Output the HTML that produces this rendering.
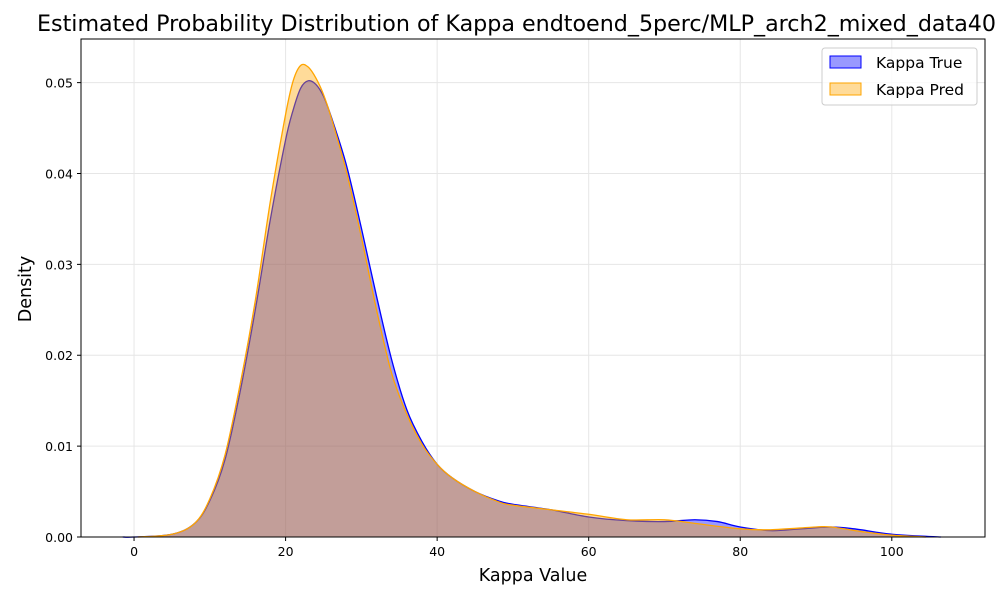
<!DOCTYPE html>
<html><head><meta charset="utf-8"><style>body{margin:0;background:#fff}svg{display:block;font-family:"DejaVu Sans","Liberation Sans",sans-serif}</style></head>
<body>
<svg id="c" width="1000" height="600">
<text x="37" y="31" font-size="22.2" fill="#000">Estimated Probability Distribution of Kappa endtoend_5perc/MLP_arch2_mixed_data40</text>
<g id="grid"></g><g id="marks"></g><g id="axes"></g>
<text x="533" y="581" font-size="17.5" text-anchor="middle">Kappa Value</text>
<text x="31" y="289" font-size="17.5" text-anchor="middle" transform="rotate(-90 31 289)">Density</text>
<g>
<rect x="822" y="48" width="155" height="57" rx="3" fill="#fff" fill-opacity="0.8" stroke="#ccc"/>
<g><rect x="830" y="56" width="31" height="12" fill="rgba(0,0,255,0.4)" stroke="#0000ff"/><text x="876" y="68" font-size="15.5">Kappa True</text></g>
<g><rect x="830" y="83" width="31" height="12" fill="rgba(255,165,0,0.4)" stroke="#ffa500"/><text x="876" y="95" font-size="15.5">Kappa Pred</text></g>
</g>
</svg>
<script>
const trueX=[-1.5,0,5,8,10,12,14,16,18,20,21,22,23,24,25,26,28,30,32,34,36,38,40,42,45,48,50,55,60,65,70,74,77,80,84,88,92,95,100,104,106.5];
const trueY=[0,0,0.0003,0.0015,0.004,0.0085,0.016,0.025,0.035,0.0437,0.047,0.0494,0.0502,0.0498,0.0485,0.0463,0.041,0.034,0.0265,0.0195,0.014,0.0105,0.008,0.0065,0.005,0.004,0.0036,0.003,0.0022,0.0018,0.0017,0.0019,0.0017,0.0011,0.0007,0.0009,0.0011,0.0009,0.0003,0.0001,0];
const predX=[0.5,5,8,10,12,14,16,18,20,21,22,23,24,25,26,28,30,32,34,36,38,40,42,45,48,50,55,60,65,70,74,80,84,90,92,96,100,104.5];
const predY=[0,0.0003,0.0015,0.0042,0.009,0.0168,0.026,0.037,0.0465,0.0502,0.0519,0.0517,0.0505,0.0487,0.0462,0.0403,0.033,0.025,0.018,0.0135,0.0102,0.008,0.0065,0.005,0.0039,0.0035,0.003,0.0025,0.0019,0.0019,0.0015,0.0009,0.0008,0.0011,0.0011,0.0006,0.0002,0];
const xTicks=[0,20,40,60,80,100];
const yTicks=[0,0.01,0.02,0.03,0.04,0.05];
const L=81,R=985,T=39,B=537,xMin=-7,xMax=112.3,yMax=0.0548;
const sx=v=>L+(v-xMin)/(xMax-xMin)*(R-L), sy=v=>B-v/yMax*(B-T);
const NS='http://www.w3.org/2000/svg';
function mk(t,a,p){const e=document.createElementNS(NS,t);for(const k in a)e.setAttribute(k,a[k]);p.appendChild(e);return e;}
const grid=document.getElementById('grid'),axes=document.getElementById('axes'),marks=document.getElementById('marks');
xTicks.forEach(v=>{const x=sx(v);
 const g=mk('line',{x1:x,x2:x,y1:T,y2:B,stroke:'#e6e6e6','stroke-width':1},grid);
 
 
 mk('line',{x1:x,x2:x,y1:B,y2:B+4,stroke:'#000'},axes);
 const t=mk('text',{x:x,y:B+19,'font-size':12.5,'text-anchor':'middle'},axes);t.textContent=v;
 
 });
yTicks.forEach(v=>{const y=sy(v);
 const g=mk('line',{x1:L,x2:R,y1:y,y2:y,stroke:'#e6e6e6','stroke-width':1},grid);
 
 
 mk('line',{x1:L-4,x2:L,y1:y,y2:y,stroke:'#000'},axes);
 const t=mk('text',{x:L-8,y:y+5,'font-size':12.5,'text-anchor':'end'},axes);t.textContent=v.toFixed(2);
 
 });
const fr=mk('rect',{x:L,y:T,width:R-L,height:B-T,fill:'none',stroke:'#000'},axes);


function smooth(X,Y){const p=X.map((x,i)=>[sx(x),sy(Y[i])]);let d='M'+p[0][0]+','+p[0][1];
 for(let i=0;i<p.length-1;i++){const p0=p[Math.max(0,i-1)],p1=p[i],p2=p[i+1],p3=p[Math.min(p.length-1,i+2)];
 d+=' C'+(p1[0]+(p2[0]-p0[0])/6)+','+(p1[1]+(p2[1]-p0[1])/6)+' '+(p2[0]-(p3[0]-p1[0])/6)+','+(p2[1]-(p3[1]-p1[1])/6)+' '+p2[0]+','+p2[1];}
 return d;}
function series(X,Y,col,name){const d=smooth(X,Y);
 const a=mk('path',{d:d+' L'+sx(X[X.length-1])+','+B+' L'+sx(X[0])+','+B+'Z',fill:col,'fill-opacity':0.4,stroke:'none'},marks);
 
 
 const l=mk('path',{d:d,fill:'none',stroke:col,'stroke-width':1.3},marks);
 
 }
series(trueX,trueY,'#0000ff','kappa-true');
series(predX,predY,'#ffa500','kappa-pred');
</script>
</body></html>
